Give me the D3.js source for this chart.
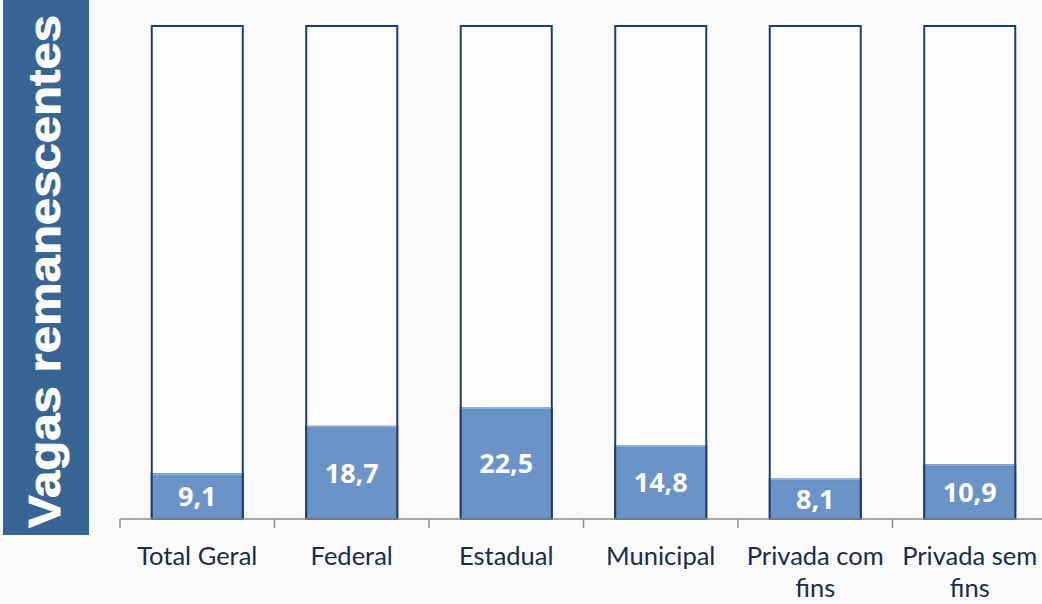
<!DOCTYPE html>
<html>
<head>
<meta charset="utf-8">
<script src="https://cdn.jsdelivr.net/npm/d3@7"></script>
<style>
  body { margin: 0; background: #fafafa; }
  svg { display: block; }
</style>
</head>
<body>
<svg width="1042" height="604"></svg>
<script>
const categories = ["Total Geral", "Federal", "Estadual", "Municipal", "Privada com fins", "Privada sem fins"];
const values = [9.1, 18.7, 22.5, 14.8, 8.1, 10.9];
const labels = ["9,1", "18,7", "22,5", "14,8", "8,1", "10,9"];
const title = "Vagas remanescentes";

const svg = d3.select("svg");
const plotLeft = 120, plotRight = 1047, plotTop = 26, plotBottom = 519;

// faint background
svg.append("rect").attr("width", 1042).attr("height", 604).attr("fill", "#fafafa");

// title band
svg.append("rect")
    .attr("x", 3).attr("y", 0)
    .attr("width", 86).attr("height", 535)
    .attr("fill", "#386694");
svg.append("text")
    .attr("transform", "translate(60,528) rotate(-90)")
    .attr("font-family", "Liberation Sans, Arial, sans-serif")
    .attr("font-weight", "bold")
    .attr("font-size", 44)
    .attr("textLength", 513)
    .attr("lengthAdjust", "spacingAndGlyphs")
    .attr("fill", "#ffffff")
    .attr("stroke", "#ffffff")
    .attr("stroke-width", 0.8)
    .text(title);

const x = d3.scaleBand().domain(categories).range([plotLeft, plotRight]).paddingInner(0).paddingOuter(0);
const y = d3.scaleLinear().domain([0, 100]).range([plotBottom, plotTop]);
const barW = 91;

const g = svg.append("g");
const bar = g.selectAll("g.bar").data(categories).enter().append("g").attr("class", "bar");

// outer (100%) box
bar.append("rect")
    .attr("x", d => x(d) + (x.bandwidth() - barW) / 2)
    .attr("y", y(100))
    .attr("width", barW)
    .attr("height", y(0) - y(100))
    .attr("fill", "#ffffff")
    .attr("fill-opacity", 0.6)
    .attr("stroke", "#1f3e6d")
    .attr("stroke-width", 2);

// filled portion
bar.append("rect")
    .attr("x", (d, i) => x(d) + (x.bandwidth() - barW) / 2)
    .attr("y", (d, i) => y(values[i]))
    .attr("width", barW)
    .attr("height", (d, i) => y(0) - y(values[i]))
    .attr("fill", "#6a94c7")
    .attr("stroke", "#1f3e6d")
    .attr("stroke-width", 2);

// lighter top edge of filled portion
bar.append("line")
    .attr("x1", d => x(d) + (x.bandwidth() - barW) / 2 + 1)
    .attr("x2", d => x(d) + (x.bandwidth() + barW) / 2 - 1)
    .attr("y1", (d, i) => y(values[i]))
    .attr("y2", (d, i) => y(values[i]))
    .attr("stroke", "#8fb0d8")
    .attr("stroke-width", 2);

bar.append("text")
    .attr("x", d => x(d) + x.bandwidth() / 2)
    .attr("y", (d, i) => (y(values[i]) + y(0)) / 2)
    .attr("dy", "0.36em")
    .attr("text-anchor", "middle")
    .attr("font-family", "Open Sans, sans-serif")
    .attr("font-weight", "bold")
    .attr("font-size", 27)
    .attr("fill", "#ffffff")
    .text((d, i) => labels[i]);

// axis
const axis = svg.append("g").attr("transform", `translate(0,${plotBottom})`);
axis.append("line")
    .attr("x1", plotLeft).attr("x2", plotRight)
    .attr("stroke", "#8c8c8c").attr("stroke-width", 1.5);
axis.selectAll("line.tick").data(categories.concat([null])).enter().append("line")
    .attr("class", "tick")
    .attr("x1", (d, i) => plotLeft + i * x.bandwidth())
    .attr("x2", (d, i) => plotLeft + i * x.bandwidth())
    .attr("y1", 0).attr("y2", 9)
    .attr("stroke", "#8c8c8c").attr("stroke-width", 1.5);

// category labels, wrapped into band width
const cat = axis.selectAll("text.cat").data(categories).enter().append("text")
    .attr("class", "cat")
    .attr("text-anchor", "middle")
    .attr("font-family", "Lato, sans-serif")
    .attr("font-size", 25.5)
    .attr("fill", "#1b2b4a");
cat.each(function (d) {
    const t = d3.select(this);
    const cx = x(d) + x.bandwidth() / 2;
    const words = d.split(" ");
    const lines = words.length > 2 ? [words.slice(0, 2).join(" "), words.slice(2).join(" ")] : [d];
    lines.forEach((ln, k) => {
        t.append("tspan").attr("x", cx).attr("y", 46 + k * 32).text(ln);
    });
});
</script>
</body>
</html>
